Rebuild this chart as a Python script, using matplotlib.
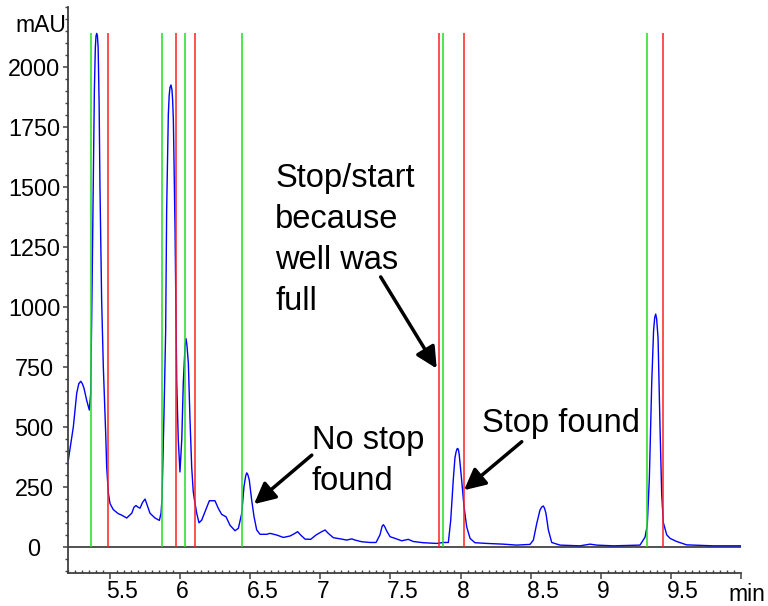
import matplotlib
matplotlib.use("Agg")
import matplotlib.pyplot as plt
from matplotlib.ticker import MultipleLocator
from matplotlib.transforms import ScaledTranslation

plt.rcParams['font.family'] = ['Liberation Sans', 'DejaVu Sans']

# chromatogram trace (min, mAU)
time_min = [5.200, 5.236, 5.260, 5.275, 5.289, 5.300, 5.312, 5.331, 5.350, 5.360,
            5.369, 5.378, 5.386, 5.393, 5.398, 5.403, 5.408, 5.413, 5.420, 5.426,
            5.438, 5.450, 5.467, 5.474, 5.486, 5.498, 5.521, 5.557, 5.581, 5.617,
            5.653, 5.669, 5.683, 5.698, 5.712, 5.730, 5.748, 5.765, 5.783, 5.819,
            5.850, 5.862, 5.869, 5.878, 5.883, 5.895, 5.902, 5.914, 5.920, 5.926,
            5.933, 5.940, 5.945, 5.950, 5.962, 5.974, 5.985, 5.997, 6.010, 6.021,
            6.033, 6.040, 6.047, 6.057, 6.069, 6.081, 6.092, 6.102, 6.117, 6.133,
            6.152, 6.176, 6.207, 6.247, 6.271, 6.295, 6.326, 6.354, 6.390, 6.414,
            6.438, 6.454, 6.466, 6.474, 6.482, 6.492, 6.509, 6.526, 6.545, 6.569,
            6.616, 6.640, 6.688, 6.735, 6.783, 6.818, 6.837, 6.859, 6.890, 6.930,
            6.968, 7.009, 7.033, 7.056, 7.092, 7.152, 7.187, 7.223, 7.247, 7.295,
            7.354, 7.397, 7.425, 7.440, 7.449, 7.458, 7.473, 7.497, 7.533, 7.580,
            7.627, 7.663, 7.734, 7.830, 7.877, 7.913, 7.930, 7.948, 7.960, 7.968,
            7.975, 7.980, 7.986, 7.991, 8.008, 8.025, 8.044, 8.068, 8.103, 8.187,
            8.305, 8.401, 8.496, 8.520, 8.544, 8.567, 8.580, 8.591, 8.600, 8.610,
            8.627, 8.651, 8.710, 8.853, 8.924, 8.972, 9.091, 9.281, 9.317, 9.333,
            9.348, 9.365, 9.378, 9.386, 9.393, 9.400, 9.410, 9.424, 9.436, 9.448,
            9.472, 9.496, 9.543, 9.615, 9.805, 10.000]
signal_mau = [361, 500, 640, 680, 690, 680, 661, 611, 570, 640,
              1050, 1515, 1900, 2080, 2130, 2140, 2130, 2080, 1850, 1500,
              1028, 750, 472, 333, 223, 180, 155, 138, 132, 120,
              140, 165, 172, 165, 161, 185, 199, 170, 140, 120,
              110, 140, 200, 417, 550, 900, 1400, 1800, 1880, 1915,
              1925, 1905, 1860, 1780, 1323, 686, 446, 312, 446, 686,
              830, 868, 840, 765, 526, 330, 230, 190, 139, 100,
              111, 146, 192, 192, 160, 135, 125, 90, 67, 77,
              139, 250, 295, 308, 300, 278, 195, 125, 70, 52,
              52, 56, 49, 39, 45, 56, 63, 49, 32, 31,
              49, 63, 70, 56, 38, 32, 28, 33, 28, 21,
              18, 18, 50, 85, 92, 85, 66, 42, 35, 25,
              31, 22, 17, 14, 18, 18, 111, 278, 370, 395,
              408, 410, 402, 382, 278, 167, 83, 35, 17, 14,
              11, 7, 10, 28, 97, 153, 166, 170, 160, 139,
              70, 18, 7, 4, 11, 7, 4, 7, 40, 90,
              287, 686, 900, 955, 970, 950, 870, 500, 220, 100,
              50, 35, 22, 8, 4, 4]

# peak start (green) and stop (red) markers
start_marks = [5.360, 5.867, 6.033, 6.442, 7.877, 9.333]
stop_marks = [5.481, 5.969, 6.102, 7.844, 8.025, 9.448]
marker_top = 2140

yticks = [0, 250, 500, 750, 1000, 1250, 1500, 1750, 2000]
xticks = [5.5, 6.0, 6.5, 7.0, 7.5, 8.0, 8.5, 9.0, 9.5, 10.0]
xtick_labels = ['5.5', '6', '6.5', '7', '7.5', '8', '8.5', '9', '9.5', '']

fig = plt.figure(figsize=(7.68, 6.06), dpi=100)
ax = fig.add_axes([68.3 / 768, 1 - 572.7 / 606, (740.7 - 68.3) / 768, (572.7 - 7) / 606])

ax.plot(time_min, signal_mau, color='#0000ff', lw=1.0, zorder=2)
ax.axhline(0, color='#333333', lw=1.2, zorder=1)
ax.vlines(start_marks, 0, marker_top, colors='#22dd22', lw=1.1, zorder=3)
ax.vlines(stop_marks, 0, marker_top, colors='#ff2020', lw=1.1, zorder=3)

ax.set_xlim(5.2, 10.0)
ax.set_ylim(-108, 2250)

for s in ['top', 'right']:
    ax.spines[s].set_visible(False)
for s in ['left', 'bottom']:
    ax.spines[s].set_color('#404040')
    ax.spines[s].set_linewidth(1.3)

ax.set_yticks(yticks)
ax.set_yticklabels([str(v) for v in yticks])
ax.yaxis.set_minor_locator(MultipleLocator(50))
ax.set_xticks(xticks)
ax.set_xticklabels(xtick_labels)
ax.xaxis.set_minor_locator(MultipleLocator(0.05))

ax.tick_params(axis='y', which='major', direction='out', length=3.6, width=1.1,
               color='#404040', labelsize=16.8, pad=21.0)
ax.tick_params(axis='y', which='minor', direction='out', length=2.4, width=1.0, color='#404040')
ax.tick_params(axis='x', which='major', direction='out', length=4.1, width=1.1,
               color='#404040', labelsize=16.5, pad=1.5)
ax.tick_params(axis='x', which='minor', direction='in', length=2.0, width=1.0, color='#404040')

for lbl in ax.get_yticklabels():
    lbl.set_ha('center')
for lbl in ax.get_xticklabels():
    lbl.set_ha('left')
    lbl.set_transform(lbl.get_transform() + ScaledTranslation(-4 / 100, 0, fig.dpi_scale_trans))

fig.text(66.7 / 768, 1 - 31.7 / 606, 'mAU', ha='right', va='baseline', fontsize=16.5)
fig.text(728.3 / 768, 1 - 601 / 606, 'min', ha='left', va='baseline', fontsize=16.5)

arrow = dict(arrowstyle='-|>', lw=2.5, color='black', mutation_scale=32,
             shrinkA=0, shrinkB=0)
ax.annotate('', xy=(6.526, 178), xytext=(6.938, 382), arrowprops=arrow)
ax.annotate('', xy=(7.830, 743), xytext=(7.430, 1125), arrowprops=arrow)
ax.annotate('', xy=(8.025, 236), xytext=(8.437, 438), arrowprops=arrow)

# multi-line text: baseline alignment applies to the last line
ax.text(6.676, (546.7 - 310) / 0.24, 'Stop/start\nbecause\nwell was\nfull',
        ha='left', va='baseline', fontsize=23.5, linespacing=1.42)
ax.text(6.938, (546.7 - 490) / 0.24, 'No stop\nfound', ha='left', va='baseline',
        fontsize=23.5, linespacing=1.42)
ax.text(8.151, (546.7 - 431.7) / 0.24, 'Stop found', ha='left', va='baseline', fontsize=23.5)

fig.savefig('out.png', dpi=100)
